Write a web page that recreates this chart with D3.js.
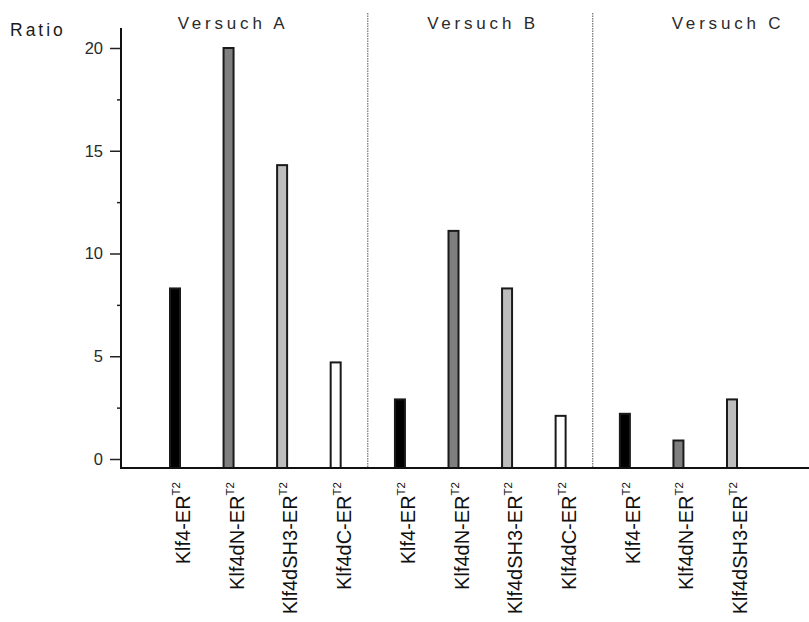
<!DOCTYPE html>
<html>
<head>
<meta charset="utf-8">
<script src="https://cdn.jsdelivr.net/npm/d3@7"></script>
<style>
  html, body { margin: 0; padding: 0; background: #fff; }
  svg { display: block; }
  text { font-family: "Liberation Sans", Arial, sans-serif; }
</style>
</head>
<body>
<svg id="chart" width="809" height="622"></svg>
<script>
// ---- data ----
const groups = ["Versuch A", "Versuch B", "Versuch C"];
const constructs = ["Klf4-ER", "Klf4dN-ER", "Klf4dSH3-ER", "Klf4dC-ER"];
const groupA = [8.3, 20.0, 14.3, 4.7];
const groupB = [2.9, 11.1, 8.3, 2.1];
const groupC = [2.2, 0.9, 2.9];
const yTicks = [0, 5, 10, 15, 20];
const superscript = "T2";
const yLabel = "Ratio";

const fills = ["#000000", "#7f7f7f", "#bdbdbd", "#ffffff"];

const bars = [];
[groupA, groupB, groupC].forEach((vals, g) => {
  vals.forEach((v, i) => {
    bars.push({ group: g, construct: i, value: v, slot: bars.length + g * 0.2 });
  });
});

const svg = d3.select("#chart");
const x = d3.scaleLinear().domain([0, 10.4]).range([175, 732]);
const y = d3.scaleLinear().domain([0, 20]).range([459, 48]);
const yBottom = 468, yTop = 28, xLeft = 121, xRight = 809;

// separators (dotted)
const groupEnds = [3, 7];
groupEnds.forEach(idx => {
  const sx = (x(bars[idx].slot) + x(bars[idx + 1].slot)) / 2;
  svg.append("line")
    .attr("x1", sx).attr("x2", sx).attr("y1", 13).attr("y2", yBottom)
    .attr("stroke", "#555").attr("stroke-width", 1)
    .attr("stroke-dasharray", "1.5,1");
});

// bars
const bw = 10;
svg.append("g").selectAll("rect").data(bars).join("rect")
  .attr("x", d => x(d.slot) - bw / 2)
  .attr("y", d => y(d.value))
  .attr("width", bw)
  .attr("height", d => yBottom - y(d.value))
  .attr("fill", d => fills[d.construct])
  .attr("stroke", "#1a1a1a")
  .attr("stroke-width", 2);

// y axis
const yAxis = d3.axisLeft(y).tickValues(yTicks).tickSize(11).tickPadding(7);
const gy = svg.append("g").attr("transform", `translate(${xLeft},0)`).call(yAxis);
gy.select(".domain").remove();
gy.selectAll(".tick line").attr("stroke", "#222").attr("stroke-width", 1.5);
gy.selectAll(".tick text").attr("font-size", 16.5).attr("fill", "#2a2a2a")
  .attr("font-family", "Liberation Sans, Arial, sans-serif");
// minor ticks
const minor = d3.axisLeft(y).tickValues([2.5, 7.5, 12.5, 17.5]).tickSize(4).tickFormat("");
const gm = svg.append("g").attr("transform", `translate(${xLeft},0)`).call(minor);
gm.select(".domain").remove();
gm.selectAll(".tick line").attr("stroke", "#222").attr("stroke-width", 1.5);

svg.append("line").attr("x1", xLeft).attr("x2", xLeft).attr("y1", yTop).attr("y2", yBottom + 1)
  .attr("stroke", "#111").attr("stroke-width", 2);
svg.append("line").attr("x1", xLeft).attr("x2", xRight).attr("y1", yBottom).attr("y2", yBottom)
  .attr("stroke", "#111").attr("stroke-width", 2);

// y label
svg.append("text").attr("x", 10).attr("y", 36).text(yLabel)
  .attr("font-size", 17.5).attr("letter-spacing", 3).attr("fill", "#1a1a1a");

// group titles
const titleX = [231, 481, 726];
groups.forEach((t, i) => {
  svg.append("text").attr("x", titleX[i] + 2).attr("y", 29).text(t)
    .attr("text-anchor", "middle").attr("font-size", 17).attr("letter-spacing", 3.8)
    .attr("fill", "#2a2a2a");
});

// x labels (rotated)
const lab = svg.append("g").selectAll("text").data(bars).join("text")
  .attr("transform", d => `translate(${x(d.slot) + 15},482) rotate(-90)`)
  .attr("text-anchor", "end")
  .attr("font-size", 20)
  .attr("fill", "#111");
lab.append("tspan").text(d => constructs[d.construct]);
lab.append("tspan").text(superscript).attr("font-size", 11.5).attr("dy", -10);
</script>
</body>
</html>
